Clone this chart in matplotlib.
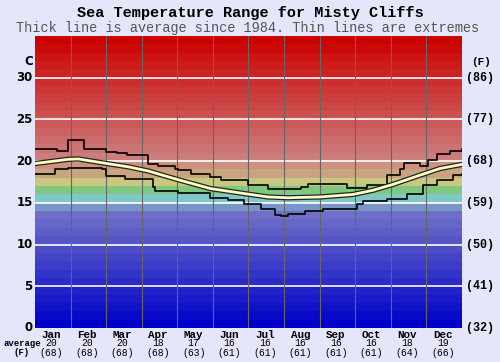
import numpy as np
from matplotlib import pyplot as plt
import matplotlib.patheffects as pe

months = ["Jan", "Feb", "Mar", "Apr", "May", "Jun",
          "Jul", "Aug", "Sep", "Oct", "Nov", "Dec"]
month_avg_c = [20, 20, 20, 18, 17, 16, 16, 16, 16, 16, 18, 19]
month_avg_f = [68, 68, 68, 68, 63, 61, 61, 61, 61, 61, 64, 66]

c_ticks = [0, 5, 10, 15, 20, 25, 30]
f_labels = ["(32)", "(41)", "(50)", "(59)", "(68)", "(77)", "(86)"]

# day of year, deg C
max_day = [0, 19, 28, 42, 61, 70, 79, 97, 105, 120, 122, 133, 150, 159, 182,
           199, 210, 227, 233, 263, 267, 284, 301, 312, 315, 329, 336, 344, 355, 365]
max_temp = [21.4, 21.2, 22.5, 21.5, 21.1, 21.0, 20.7, 19.7, 19.4, 19.1, 18.9, 18.5,
            18.1, 17.7, 17.1, 16.6, 16.7, 16.9, 17.3, 17.2, 16.8, 17.1, 18.3, 19.1,
            19.8, 19.4, 20.1, 20.9, 21.2, 21.4]

avg_day = [0, 28, 37, 57, 80, 97, 114, 124, 150, 179, 199, 216, 244, 272, 289,
           306, 329, 346, 365]
avg_temp = [19.7, 20.2, 20.25, 19.8, 19.3, 18.8, 18.1, 17.7, 16.7, 16.1, 15.7,
            15.6, 15.7, 16.0, 16.5, 17.2, 18.3, 19.1, 19.6]

min_day = [0, 17, 28, 57, 61, 77, 81, 101, 103, 122, 139, 150, 165, 179, 193, 205,
           210, 216, 231, 246, 275, 280, 301, 318, 332, 344, 357, 365]
min_temp = [18.4, 19.1, 19.2, 19.0, 18.2, 17.9, 17.8, 16.9, 16.4, 16.2, 16.2, 15.6,
            15.3, 14.9, 14.2, 13.5, 13.4, 13.7, 14.0, 14.3, 14.9, 15.2, 15.5, 16.0,
            17.1, 17.7, 18.3, 18.4]


def band_color(t):
    if t < 14:
        v = 8.5 * t
        return (v / 255, v / 255, 200 / 255)
    special = {14: (120, 150, 200), 15: (128, 200, 200), 16: (128, 200, 128),
               17: (200, 200, 128), 18: (200, 165, 128), 19: (205, 145, 128)}
    if t in special:
        return tuple(c / 255 for c in special[t])
    g = max(0, 125 * (34 - t) / 14)
    return (204 / 255, g / 255, g / 255)


bg = "#e6e6fa"
fig = plt.figure(figsize=(5, 3.62), dpi=100, facecolor=bg)
ax = fig.add_axes([0.07, 0.094, 0.854, 0.807])
ax.set_xlim(0, 365)
ax.set_ylim(0, 35)

for t in range(35):
    ax.axhspan(t, t + 1, color=band_color(t), lw=0, zorder=0)
for c in c_ticks[1:]:
    ax.axhline(c, color="white", lw=1.2, zorder=1)
for k in range(1, 12):
    ax.axvline(k * 365 / 12, color="#666666", lw=0.8, zorder=1)

ax.plot(max_day, max_temp, color="black", lw=1.2, drawstyle="steps-post", zorder=3)
ax.plot(min_day, min_temp, color="black", lw=1.2, drawstyle="steps-post", zorder=3)
ax.plot(avg_day, avg_temp, color="#ffffc0", lw=2.0, zorder=4,
        path_effects=[pe.Stroke(linewidth=3.8, foreground="#222222"), pe.Normal()])

ax.set_xticks([])
ax.set_yticks([])
for s in ax.spines.values():
    s.set_visible(False)

mono = "Liberation Mono"
for c, lab in zip(c_ticks, f_labels):
    ax.text(-2, c, str(c), ha="right", va="center", fontsize=8.5,
            fontweight="bold", family="DejaVu Sans", clip_on=False)
    ax.text(368, c, lab, ha="left", va="center", fontsize=8.5,
            fontweight="bold", family=mono, clip_on=False)
ax.text(-2, 31.9, "C", ha="right", va="center", fontsize=8.5,
        fontweight="bold", family="DejaVu Sans")
ax.text(381, 31.9, "(F)", ha="center", va="center", fontsize=8,
        fontweight="bold", family=mono)

for i, m in enumerate(months):
    xc = 0.07 + 0.854 * (i + 0.5) / 12 - 0.003
    fig.text(xc, 1 - 335 / 362, m, ha="center", va="center",
             fontsize=7.8, fontweight="bold", family=mono)
    fig.text(xc, 1 - 343.5 / 362, str(month_avg_c[i]),
             ha="center", va="center", fontsize=7, family=mono)
    fig.text(xc, 1 - 352.5 / 362, "(%d)" % month_avg_f[i],
             ha="center", va="center", fontsize=7, family=mono)
fig.text(22 / 500, 1 - 343 / 362, "average", ha="center", va="center",
         fontsize=6.5, fontweight="bold", family=mono)
fig.text(22 / 500, 1 - 352.5 / 362, "(F)", ha="center", va="center",
         fontsize=6.5, fontweight="bold", family=mono)

fig.text(0.5, 1 - 13 / 362, "Sea Temperature Range for Misty Cliffs", ha="center",
         va="center", fontsize=11, fontweight="bold", family=mono)
fig.text(0.495, 1 - 28 / 362, "Thick line is average since 1984. Thin lines are extremes",
         ha="center", va="center", fontsize=9.8, color="#555555", family=mono)

fig.savefig("out.png", dpi=100, facecolor=bg)
